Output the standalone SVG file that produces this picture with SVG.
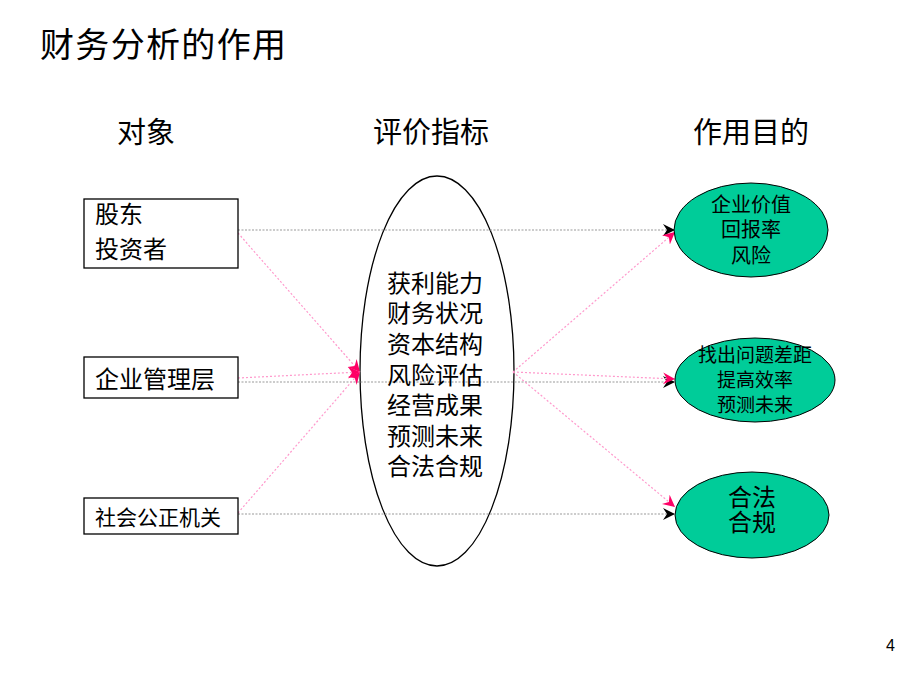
<svg xmlns="http://www.w3.org/2000/svg" width="920" height="690" viewBox="0 0 920 690">
<defs>
<style>
.t{font-family:"Liberation Serif","Noto Sans CJK SC",serif;fill:#000}
.box{fill:#fff;stroke:#000;stroke-width:1.3}
.goal{fill:#00CC99;stroke:#000;stroke-width:1}
.gray{stroke:#999;stroke-width:1.2;stroke-dasharray:2 1.5;fill:none}
.pink{stroke:#FF99CC;stroke-width:1.2;stroke-dasharray:2 2;fill:none}
</style>
<marker id="ap" markerUnits="userSpaceOnUse" markerWidth="14" markerHeight="14" refX="12" refY="6" orient="auto">
<path d="M0,0 L12,6 L0,12 L4,6 Z" fill="#FF0066"/>
</marker>
<marker id="ab" markerUnits="userSpaceOnUse" markerWidth="14" markerHeight="14" refX="12" refY="6" orient="auto">
<path d="M0,0 L12,6 L0,12 L4,6 Z" fill="#000"/>
</marker>
</defs>
<rect width="920" height="690" fill="#fff"/>
<text class="t" x="40" y="57" font-size="34" textLength="246">财务分析的作用</text>
<text class="t" x="117" y="143" font-size="29">对象</text>
<text class="t" x="373" y="143" font-size="29">评价指标</text>
<text class="t" x="693" y="143" font-size="29">作用目的</text>

<g id="center">
<ellipse cx="437" cy="371" rx="77" ry="195" fill="#fff" stroke="#000" stroke-width="1.3"/>
</g>

<g id="connectors">
<line class="gray" x1="238" y1="230" x2="675" y2="230" marker-end="url(#ab)"/>
<line class="gray" x1="238" y1="382" x2="675" y2="382" marker-end="url(#ab)"/>
<line class="gray" x1="238" y1="514" x2="675" y2="514" marker-end="url(#ab)"/>
<line class="pink" x1="238" y1="233" x2="360" y2="372" marker-end="url(#ap)"/>
<line class="pink" x1="238" y1="378" x2="360" y2="372" marker-end="url(#ap)"/>
<line class="pink" x1="238" y1="513" x2="360" y2="372" marker-end="url(#ap)"/>
<line class="pink" x1="513" y1="372" x2="675" y2="232" marker-end="url(#ap)"/>
<line class="pink" x1="513" y1="372" x2="675" y2="379" marker-end="url(#ap)"/>
<line class="pink" x1="513" y1="372" x2="675" y2="507" marker-end="url(#ap)"/>
</g>

<g id="center-text">
<text class="t" font-size="24" x="387">
<tspan x="387" y="292">获利能力</tspan>
<tspan x="387" y="322">财务状况</tspan>
<tspan x="387" y="353">资本结构</tspan>
<tspan x="387" y="384">风险评估</tspan>
<tspan x="387" y="414">经营成果</tspan>
<tspan x="387" y="445">预测未来</tspan>
<tspan x="387" y="475">合法合规</tspan>
</text>
</g>

<g id="shareholders">
<rect class="box" x="84" y="199" width="154" height="69"/>
<text class="t" font-size="24"><tspan x="95" y="223">股东</tspan><tspan x="95" y="258">投资者</tspan></text>
</g>
<g id="management">
<rect class="box" x="84" y="357" width="154" height="41"/>
<text class="t" font-size="24" x="95" y="388">企业管理层</text>
</g>
<g id="public">
<rect class="box" x="84" y="498" width="154" height="36"/>
<text class="t" font-size="21" x="95" y="525">社会公正机关</text>
</g>

<g id="goal1">
<ellipse class="goal" cx="751" cy="230" rx="77" ry="47"/>
<text class="t" font-size="20" text-anchor="middle"><tspan x="751" y="212">企业价值</tspan><tspan x="751" y="237">回报率</tspan><tspan x="751" y="263">风险</tspan></text>
</g>
<g id="goal2">
<ellipse class="goal" cx="755" cy="380" rx="80" ry="42"/>
<text class="t" font-size="19" text-anchor="middle"><tspan x="755" y="362">找出问题差距</tspan><tspan x="755" y="387">提高效率</tspan><tspan x="755" y="412">预测未来</tspan></text>
</g>
<g id="goal3">
<ellipse class="goal" cx="752" cy="515" rx="77" ry="43"/>
<text class="t" font-size="24" text-anchor="middle"><tspan x="752" y="506">合法</tspan><tspan x="752" y="531">合规</tspan></text>
</g>

<text x="886" y="651" font-family="Liberation Sans, sans-serif" font-size="16" fill="#000">4</text>
</svg>
